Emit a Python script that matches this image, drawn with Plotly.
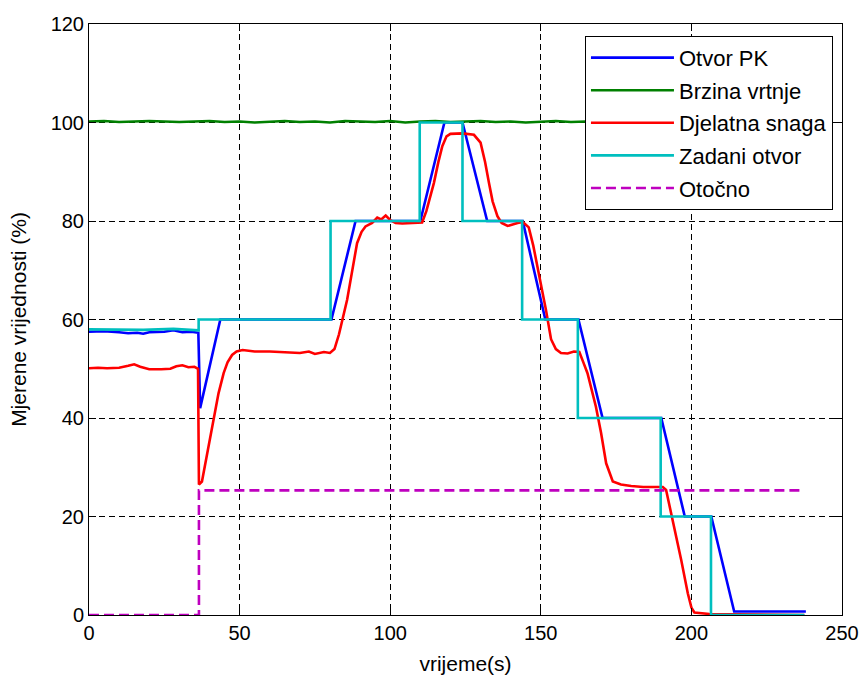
import plotly.graph_objects as go

# ---- Data ----
t_otvor = [0, 5, 10, 13, 16, 18, 20, 25, 28, 31, 34, 36.3, 36.9, 43.6, 80.5, 88.5, 110, 118, 124, 132.2,
           144, 151.5, 162.5, 170.5, 190, 197.8, 206.6, 214.2, 238]
v_otvor = [57.5, 57.6, 57.4, 57.2, 57.3, 57.1, 57.4, 57.5, 57.8, 57.4, 57.5, 57.3, 42, 60, 60, 80, 80, 100, 100, 80,
           80, 60, 60, 40, 40, 20, 20, 0.7, 0.7]

t_brzina = [0, 5, 10, 15, 20, 25, 30, 35, 40, 45, 50, 55, 60, 65, 70, 75, 80, 85, 90, 95, 100, 105, 110, 115, 120,
            125, 130, 135, 140, 145, 150, 155, 160, 165, 170, 175, 180, 185, 190, 195, 200, 205, 210, 215, 220,
            225, 230, 235, 238]
v_brzina = [100.2, 100.3, 100.1, 100.2, 100.3, 100.2, 100.1, 100.2, 100.3, 100.1, 100.2, 100.0, 100.2, 100.3,
            100.1, 100.2, 100.0, 100.3, 100.2, 100.1, 100.3, 100.0, 100.2, 100.3, 100.1, 100.2, 100.3, 100.1,
            100.2, 100.0, 100.2, 100.3, 100.1, 100.2, 100.3, 100.0, 100.2, 100.1, 100.3, 100.2, 100.1, 100.2,
            100.3, 100.1, 100.2, 100.3, 100.1, 100.2, 100.2]

t_snaga = [0, 3, 6, 10, 13, 15, 17, 20, 24, 27, 29, 31, 33, 35, 36.2, 36.5, 37.5, 39, 41.4, 43, 44.7, 46, 47.5,
           49, 51, 55, 60, 65, 70, 73, 75, 78, 80, 81.5, 83, 85.7, 87.5, 89, 90.5, 91.8, 94, 95.7, 97, 98.5, 100,
           101.8, 104, 107, 110.6, 112, 114.5, 116, 117.3, 118.7, 120, 124, 127.8, 130, 131.5, 132.8, 134, 135.6,
           137, 139, 140.5, 142.3, 144, 146, 147.5, 148.9, 150.3, 151.7, 153.4, 155, 156.7, 158.9, 161, 162.8,
           164, 165.5, 168.3, 170, 171.7, 173.9, 176.6, 180, 184, 188.8, 190.5, 191.6, 193.8, 196.6, 198.8, 200,
           201, 206, 237.5]
v_snaga = [50.1, 50.2, 50.1, 50.2, 50.6, 50.9, 50.4, 49.9, 49.9, 50.0, 50.5, 50.7, 50.3, 50.4, 50.0, 26.5, 27.1,
           32, 39.6, 45, 49.1, 51.3, 52.8, 53.5, 53.8, 53.5, 53.5, 53.4, 53.2, 53.5, 53.0, 53.4, 53.2, 54, 57, 64,
           70, 75.5, 77.8, 78.9, 79.6, 80.7, 80.3, 81.1, 80.2, 79.6, 79.5, 79.6, 79.7, 82, 87.7, 92, 95.2, 97.2,
           97.7, 97.8, 97.5, 95.9, 92, 87.7, 84, 81, 79.6, 79.0, 79.3, 79.6, 79.8, 78.7, 75, 70.8, 66, 62, 56, 54,
           53.2, 53.1, 53.5, 53.4, 51.5, 49.1, 42.3, 37, 30.8, 27.1, 26.5, 26.2, 26.0, 26.1, 26.0, 25.4, 19.3, 11.2,
           4.4, 1.5, 0.5, 0.2, 0]

t_zadani = [0, 10, 18, 28, 36.4, 36.4, 80.2, 80.2, 109.8, 109.8, 124, 124, 143.8, 143.8, 162.3, 162.3, 189.8,
            189.8, 206.5, 206.5, 237.5]
v_zadani = [58, 58, 57.9, 58.1, 57.8, 60, 60, 80, 80, 100, 100, 80, 80, 60, 60, 40, 40, 20, 20, 0, 0]

t_otocno = [0, 36.5, 36.5, 236.5]
v_otocno = [0, 0, 25.3, 25.3]

series = [
    ("Otvor PK", t_otvor, v_otvor, "#0000FF", "solid"),
    ("Brzina vrtnje", t_brzina, v_brzina, "#008000", "solid"),
    ("Djelatna snaga", t_snaga, v_snaga, "#FF0000", "solid"),
    ("Zadani otvor", t_zadani, v_zadani, "#00BFBF", "solid"),
    ("Otočno", t_otocno, v_otocno, "#BF00BF", "10px,5px"),
]

x_ticks = [0, 50, 100, 150, 200, 250]
y_ticks = [0, 20, 40, 60, 80, 100, 120]

FONT = "Liberation Sans, Arial, sans-serif"

fig = go.Figure()
for i, (name, xs, ys, color, dash) in enumerate(series):
    fig.add_trace(go.Scatter(x=xs, y=ys, mode="lines", name=name, legendgroup=f"g{i}",
                             line=dict(color=color, width=2.6, dash=dash)))

axis_common = dict(
    showline=True, linecolor="black", linewidth=1, mirror="ticks",
    ticks="inside", ticklen=7, tickcolor="black", tickwidth=1,
    showgrid=True, gridcolor="black", gridwidth=1, griddash="6px,4px",
    zeroline=False, automargin=False,
    tickfont=dict(family=FONT, size=20, color="black"),
)

fig.update_layout(
    width=863, height=675,
    paper_bgcolor="white", plot_bgcolor="white",
    margin=dict(l=89, r=21, t=24, b=60),
    showlegend=True,
    legend=dict(x=0.988, y=0.98, xanchor="right", yanchor="top",
                bgcolor="white", bordercolor="black", borderwidth=1,
                traceorder="grouped", tracegroupgap=1, itemwidth=83,
                font=dict(family=FONT, size=22, color="black")),
    xaxis=dict(range=[0, 250], tickvals=x_ticks,
               title=dict(text="vrijeme(s)", standoff=14,
                          font=dict(family=FONT, size=21, color="black")),
               **axis_common),
    yaxis=dict(range=[0, 120], tickvals=y_ticks,
               title=dict(text="Mjerene vrijednosti (%)", standoff=18,
                          font=dict(family=FONT, size=21, color="black")),
               **axis_common),
)

fig.write_html("out.html", config={"displayModeBar": False},
               post_script="document.body.style.margin='0';document.body.style.padding='0';")
